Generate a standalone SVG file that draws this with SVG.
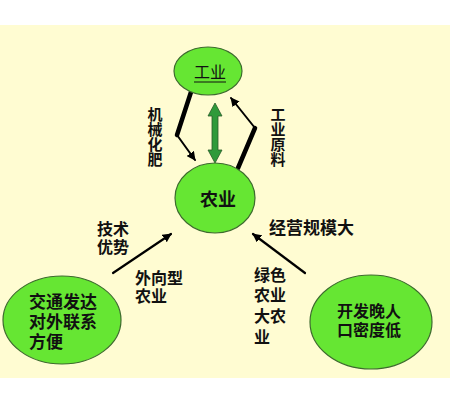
<svg xmlns="http://www.w3.org/2000/svg" width="455" height="401" viewBox="0 0 455 401">
<defs>
<style>
.bg{fill:#fffcd2}
.node{fill:#66e633;stroke:#3d6b2e;stroke-width:1.2}
text{font-family:"Liberation Sans","Noto Sans CJK SC","Noto Sans CJK JP",sans-serif;font-weight:bold;fill:#111;dominant-baseline:central}
.lbl{font-size:16px}
.vert{font-family:"Noto Sans CJK SC","Noto Sans CJK JP",sans-serif;font-size:15px;writing-mode:vertical-rl;dominant-baseline:auto}
.ln{fill:none;stroke:#000;stroke-linecap:round;stroke-linejoin:round}
</style>
<marker id="ah2" viewBox="0 0 10 10" refX="9" refY="5" markerWidth="9" markerHeight="9" orient="auto" markerUnits="userSpaceOnUse">
<path d="M0,0 L10,5 L0,10 z" fill="#000"/>
</marker>
</defs>
<rect x="0" y="0" width="455" height="401" fill="#ffffff"/>
<rect class="bg" x="0" y="25" width="450" height="353"/>

<g id="connectors">
<path class="ln" d="M191,92 L177,135" stroke-width="4.5"/>
<path class="ln" d="M177,135 L195,160" stroke-width="2" marker-end="url(#ah2)"/>
<path class="ln" d="M238,168 L255,128" stroke-width="4.5"/>
<path class="ln" d="M255,128 L231,98" stroke-width="2" marker-end="url(#ah2)"/>
<path id="double" d="M215,103 L222,116 L218,116 L218,150 L222,150 L215,163 L208,150 L212,150 L212,116 L208,116 z" fill="#2f9a3a" stroke="#2a5a2a" stroke-width="0.8"/>
<path class="ln" d="M113,273 L171,234" stroke-width="2.2" marker-end="url(#ah2)"/>
<path class="ln" d="M305,273 L253,234" stroke-width="2.2" marker-end="url(#ah2)"/>
</g>

<g id="node-gongye">
<ellipse class="node" cx="208" cy="71" rx="34" ry="24"/>
<text x="210" y="72" font-size="16" text-anchor="middle" style="font-weight:normal">工业</text>
<line x1="194" y1="82" x2="226" y2="82" stroke="#111" stroke-width="1"/>
</g>

<g id="node-nongye">
<ellipse class="node" cx="215" cy="198" rx="40" ry="35"/>
<text x="218" y="200" font-size="18" text-anchor="middle">农业</text>
</g>

<g id="node-left">
<ellipse class="node" cx="62" cy="320" rx="59" ry="44"/>
<text font-size="17"><tspan x="29" y="302">交通发达</tspan><tspan x="29" y="322">对外联系</tspan><tspan x="29" y="342">方便</tspan></text>
</g>

<g id="node-right">
<ellipse class="node" cx="371" cy="322" rx="61" ry="47"/>
<text class="lbl"><tspan x="337" y="311">开发晚人</tspan><tspan x="337" y="330">口密度低</tspan></text>
</g>

<g id="labels">
<text class="vert" x="155" y="107">机械化肥</text>
<text class="vert" x="278" y="107">工业原料</text>
<text class="lbl"><tspan x="97" y="229">技术</tspan><tspan x="97" y="247">优势</tspan></text>
<text class="lbl"><tspan x="135" y="278">外向型</tspan><tspan x="135" y="296">农业</tspan></text>
<text x="269" y="228" font-size="17">经营规模大</text>
<text class="lbl"><tspan x="254" y="275">绿色</tspan><tspan x="254" y="295">农业</tspan><tspan x="254" y="316">大农</tspan><tspan x="254" y="337">业</tspan></text>
</g>
</svg>
